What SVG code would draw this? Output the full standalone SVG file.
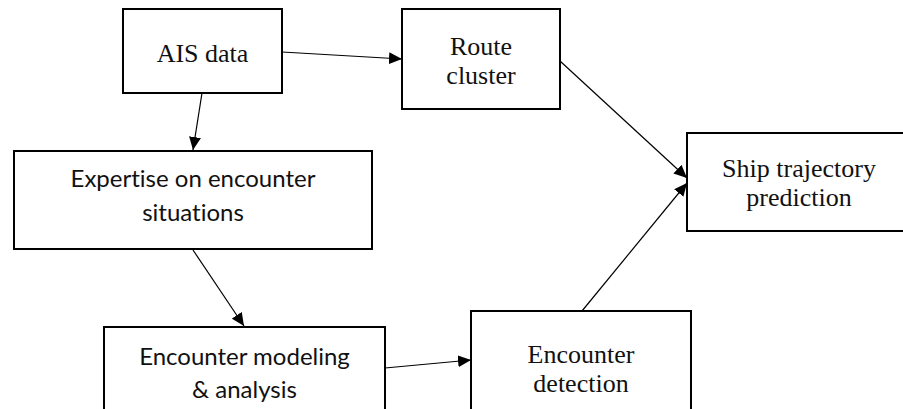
<svg xmlns="http://www.w3.org/2000/svg" width="903" height="409" viewBox="0 0 903 409">
<style>
.box{fill:#fff;stroke:#000;stroke-width:2}
.serif{font-family:"Liberation Serif","Times New Roman",serif;font-size:26px;fill:#111;text-anchor:middle}
.sans{font-family:Lato,"Liberation Sans",sans-serif;font-size:24px;fill:#111;text-anchor:middle;font-variant-ligatures:none}
.conn{stroke:#000;stroke-width:1.2;fill:none;marker-end:url(#arr)}
</style>
<defs>
<marker id="arr" markerUnits="userSpaceOnUse" markerWidth="14" markerHeight="12" refX="13" refY="6" orient="auto">
<path d="M0,0 L13,6 L0,12 z" fill="#000"/>
</marker>
</defs>
<rect width="903" height="409" fill="#fff"/>
<g id="connectors">
<line class="conn" x1="282" y1="52" x2="402" y2="59"/>
<line class="conn" x1="202" y1="93" x2="193" y2="150"/>
<line class="conn" x1="193" y1="250" x2="244" y2="326"/>
<line class="conn" x1="560" y1="61" x2="687" y2="178"/>
<line class="conn" x1="385" y1="368" x2="471" y2="360"/>
<line class="conn" x1="582" y1="311" x2="687" y2="183"/>
</g>
<g id="ais">
<rect class="box" x="123" y="9" width="159" height="84"/>
<text class="serif" x="202.5" y="62">AIS data</text>
</g>
<g id="route">
<rect class="box" x="402" y="9" width="158" height="100"/>
<text class="serif" x="481" y="55">Route</text>
<text class="serif" x="481" y="84">cluster</text>
</g>
<g id="expertise">
<rect class="box" x="14" y="151" width="358" height="98"/>
<text class="sans" x="193" y="187">Expertise on encounter</text>
<text class="sans" x="193" y="221">situations</text>
</g>
<g id="modeling">
<rect class="box" x="104" y="327" width="281" height="100"/>
<text class="sans" x="244.5" y="365">Encounter modeling</text>
<text class="sans" x="244.5" y="398">&amp; analysis</text>
</g>
<g id="detection">
<rect class="box" x="471" y="311" width="220" height="110"/>
<text class="serif" x="581" y="363">Encounter</text>
<text class="serif" x="581" y="392">detection</text>
</g>
<g id="ship">
<rect class="box" x="687" y="133" width="226" height="98"/>
<text class="serif" x="799" y="177">Ship trajectory</text>
<text class="serif" x="799" y="206">prediction</text>
</g>
</svg>
